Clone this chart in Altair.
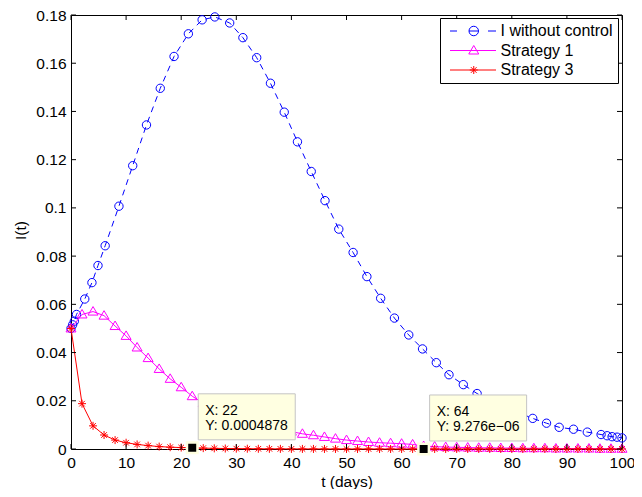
import altair as alt
import pandas as pd

# ---- data ----
t_blue = [0, 0.3, 0.6, 1.0, 2.5, 3.8, 4.9, 6.2, 8.7, 11.2, 13.7, 16.2, 18.7, 21.3, 23.8, 26.1,
          28.8, 31.2, 33.7, 36.2, 38.7, 41.1, 43.6, 46.1, 48.6, 51.2, 53.7, 56.2, 58.7, 61.3,
          63.8, 66.3, 68.6, 71.2, 73.7, 76.2, 78.7, 81.3, 83.8, 86.3, 88.6, 91.2, 93.7, 96.2,
          97.3, 98.2, 99.1, 100]
i_blue = [0.0500, 0.0515, 0.0530, 0.0558, 0.0622, 0.0690, 0.0761, 0.0843, 0.1007, 0.1175,
          0.1344, 0.1496, 0.1628, 0.1722, 0.1780, 0.1792, 0.1767, 0.1706, 0.1623, 0.1517,
          0.1397, 0.1274, 0.1151, 0.1030, 0.0912, 0.0815, 0.0715, 0.0625, 0.0543, 0.0473,
          0.0415, 0.0358, 0.0308, 0.0267, 0.0230, 0.0201, 0.0175, 0.0150, 0.0127, 0.0107,
          0.0090, 0.0082, 0.0070, 0.0060, 0.0055, 0.0051, 0.0049, 0.0046]

t_step = list(range(0, 101, 2))
i_s1 = [0.0500, 0.0558, 0.0570, 0.0553, 0.0510, 0.0469, 0.0421, 0.0377, 0.0332, 0.0291,
        0.0256, 0.0219, 0.0190, 0.0165, 0.0145, 0.0128, 0.0113, 0.0100, 0.0089, 0.0080,
        0.0072, 0.0063, 0.0057, 0.0050, 0.0043, 0.0037, 0.0033, 0.0029, 0.0026, 0.0024,
        0.0022, 0.0019, 0.0012, 0.0010, 0.0008, 0.0007, 0.0006, 0.0005, 0.0005, 0.0004,
        0.0004, 0.0003, 0.0003, 0.0003, 0.0002, 0.0002, 0.0002, 0.0002, 0.0001, 0.0001,
        0.0001]
i_s3 = [0.05, 0.0188, 0.0096, 0.0058, 0.0037, 0.0026, 0.0019, 0.0014, 0.0010, 0.00075,
        0.0006, 0.0004878, 0.00036, 0.00027, 0.0002, 0.00015, 0.00012, 0.00009, 0.00007,
        0.000055, 0.000045, 0.000037, 0.00003, 0.000025, 0.000021, 0.000018, 0.000016,
        0.000014, 0.000012, 0.000011, 0.00001, 0.0000097, 0.000009276, 0.000009, 0.0000085,
        0.000008, 0.0000075, 0.000007, 0.0000066, 0.0000062, 0.0000058, 0.0000055,
        0.0000052, 0.0000049, 0.0000046, 0.0000043, 0.000004, 0.0000038, 0.0000036,
        0.0000034, 0.0000032]

series_names = ["I without control", "Strategy 1", "Strategy 3"]
series_colors = ["#0000ff", "#ff00ff", "#ff0000"]

tip_t = [22, 64]
tip_i = [0.0004878, 9.276e-06]
tip_xlab = ["X: 22", "X: 64"]
tip_ylab = ["Y: 0.0004878", "Y: 9.276e\u221206"]

x_ticks = list(range(0, 101, 10))
y_ticks = [0, 0.02, 0.04, 0.06, 0.08, 0.1, 0.12, 0.14, 0.16, 0.18]

# ---- tables ----
df_blue = pd.DataFrame({"t": t_blue, "I": i_blue})
df_s1 = pd.DataFrame({"t": t_step, "I": i_s1})
df_s3 = pd.DataFrame({"t": t_step, "I": i_s3})
df_leg = pd.DataFrame({"t": [0, 0, 0], "I": [i_blue[0], i_s1[0], i_s3[0]], "series": series_names})
df_tip = pd.DataFrame({"t": tip_t, "I": tip_i, "xl": tip_xlab, "yl": tip_ylab})
df_xt = pd.DataFrame({"t": x_ticks})
df_yt = pd.DataFrame({"I": y_ticks})

FONT = "Liberation Sans"
xs = alt.Scale(domain=[0, 100], nice=False, zero=False)
ys = alt.Scale(domain=[0, 0.18], nice=False, zero=False)

X = alt.X("t:Q", scale=xs,
          axis=alt.Axis(values=x_ticks, title="t (days)", grid=False, domain=False, tickSize=0,
                        labelFlush=False, labelPadding=6, labelFontSize=15.5, labelFont=FONT,
                        labelColor="black", titleFontSize=15.5, titleFont=FONT,
                        titleFontWeight="normal", titleColor="black", titleY=37,
                        titleBaseline="alphabetic"))
Y = alt.Y("I:Q", scale=ys,
          axis=alt.Axis(values=y_ticks, format=".2~f", title="I(t)", grid=False, domain=False,
                        tickSize=0, labelPadding=5, labelFontSize=15.5, labelFont=FONT,
                        labelColor="black", titleFontSize=15.5, titleFont=FONT,
                        titleFontWeight="normal", titleColor="black", titleX=-51, titleY=215,
                        titleAngle=270, titleBaseline="middle", titleAlign="center"))

ASTER = "M0,-1L0,1M-1,0L1,0M-0.7,-0.7L0.7,0.7M-0.7,0.7L0.7,-0.7"
TRI = "M0,-1L1,0.7L-1,0.7Z"

blue_line = alt.Chart(df_blue).mark_line(color="#0000ff", strokeWidth=1, strokeDash=[6, 5]).encode(x=X, y=Y)
blue_pts = alt.Chart(df_blue).mark_point(shape="circle", size=70, filled=False, color="#0000ff",
                                         strokeWidth=1, opacity=1).encode(x="t:Q", y="I:Q")
s1_line = alt.Chart(df_s1).mark_line(color="#ff00ff", strokeWidth=1).encode(x="t:Q", y="I:Q")
s1_pts = alt.Chart(df_s1).mark_point(shape=TRI, size=100, filled=False, color="#ff00ff",
                                     strokeWidth=1, opacity=1).encode(x="t:Q", y="I:Q")
s3_line = alt.Chart(df_s3).mark_line(color="#ff0000", strokeWidth=1).encode(x="t:Q", y="I:Q")
s3_pts = alt.Chart(df_s3).mark_point(shape=ASTER, size=64, filled=False, color="#ff0000",
                                     strokeWidth=1, opacity=1).encode(x="t:Q", y="I:Q")

LEG_BLUE = ("M-0.3,0L1.1,0M3.5,0L5.4,0M7.3,0L8.9,0"
            "M5.4,0A0.95,0.95,0,1,1,3.5,0A0.95,0.95,0,1,1,5.4,0")
LEG_S1 = "M-0.3,0L8.9,0M4.45,-1L5.45,0.7L3.45,0.7Z"
LEG_S3 = ("M-0.3,0L8.9,0M4.45,-0.8L4.45,0.8M3.65,0L5.25,0"
          "M3.88,-0.57L5.02,0.57M3.88,0.57L5.02,-0.57")

legend_layer = alt.Chart(df_leg).mark_point(filled=False, opacity=0, strokeWidth=1).encode(
    x="t:Q", y="I:Q",
    color=alt.Color("series:N", scale=alt.Scale(domain=series_names, range=series_colors),
                    legend=alt.Legend(title=None)),
    shape=alt.Shape("series:N", scale=alt.Scale(domain=series_names,
                                                range=[LEG_BLUE, LEG_S1, LEG_S3]),
                    legend=alt.Legend(title=None)),
)

# inward ticks on all four sides
tick_b = alt.Chart(df_xt).mark_rule(color="black", strokeWidth=1, y2Offset=-5).encode(
    x="t:Q", y=alt.datum(0), y2=alt.datum(0))
tick_t = alt.Chart(df_xt).mark_rule(color="black", strokeWidth=1, y2Offset=5).encode(
    x="t:Q", y=alt.datum(0.18), y2=alt.datum(0.18))
tick_l = alt.Chart(df_yt).mark_rule(color="black", strokeWidth=1, x2Offset=5).encode(
    y="I:Q", x=alt.datum(0), x2=alt.datum(0))
tick_r = alt.Chart(df_yt).mark_rule(color="black", strokeWidth=1, x2Offset=-5).encode(
    y="I:Q", x=alt.datum(100), x2=alt.datum(100))

tip_box = alt.Chart(df_tip).mark_rect(fill="#ffffe1", stroke="#c4c4c4", strokeWidth=1,
                                      xOffset=6, x2Offset=103, yOffset=-54, y2Offset=-8).encode(
    x="t:Q", x2="t:Q", y="I:Q", y2="I:Q")
tip_x = alt.Chart(df_tip).mark_text(align="left", baseline="alphabetic", dx=13, dy=-33,
                                    fontSize=14, font=FONT, color="black").encode(
    x="t:Q", y="I:Q", text="xl:N")
tip_y = alt.Chart(df_tip).mark_text(align="left", baseline="alphabetic", dx=13, dy=-18,
                                    fontSize=14, font=FONT, color="black").encode(
    x="t:Q", y="I:Q", text="yl:N")
tip_sq = alt.Chart(df_tip).mark_square(size=110, color="black", fill="black", stroke="#ffffe1",
                                       strokeWidth=2.5, opacity=1).encode(x="t:Q", y="I:Q")

chart = alt.layer(
    blue_line, blue_pts, s1_line, s1_pts, s3_line, s3_pts, legend_layer,
    tick_b, tick_t, tick_l, tick_r,
    tip_box, tip_x, tip_y, tip_sq,
).properties(
    width=551, height=434,
    autosize=alt.AutoSizeParams(type="none"),
    padding={"left": 63, "top": 7, "right": 12, "bottom": 40},
).configure(
    font=FONT,
).configure_view(
    stroke="black", strokeWidth=1,
).configure_legend(
    orient="none", legendX=369, legendY=3, strokeColor="black", fillColor="white", padding=5,
    rowPadding=3.5, labelFontSize=16, labelFont=FONT, labelColor="black", labelOffset=41,
    symbolOffset=-1.5, symbolSize=100, symbolStrokeWidth=1, symbolOpacity=1, cornerRadius=0,
)

chart.save("out.html", embed_options={"renderer": "svg", "actions": False})
